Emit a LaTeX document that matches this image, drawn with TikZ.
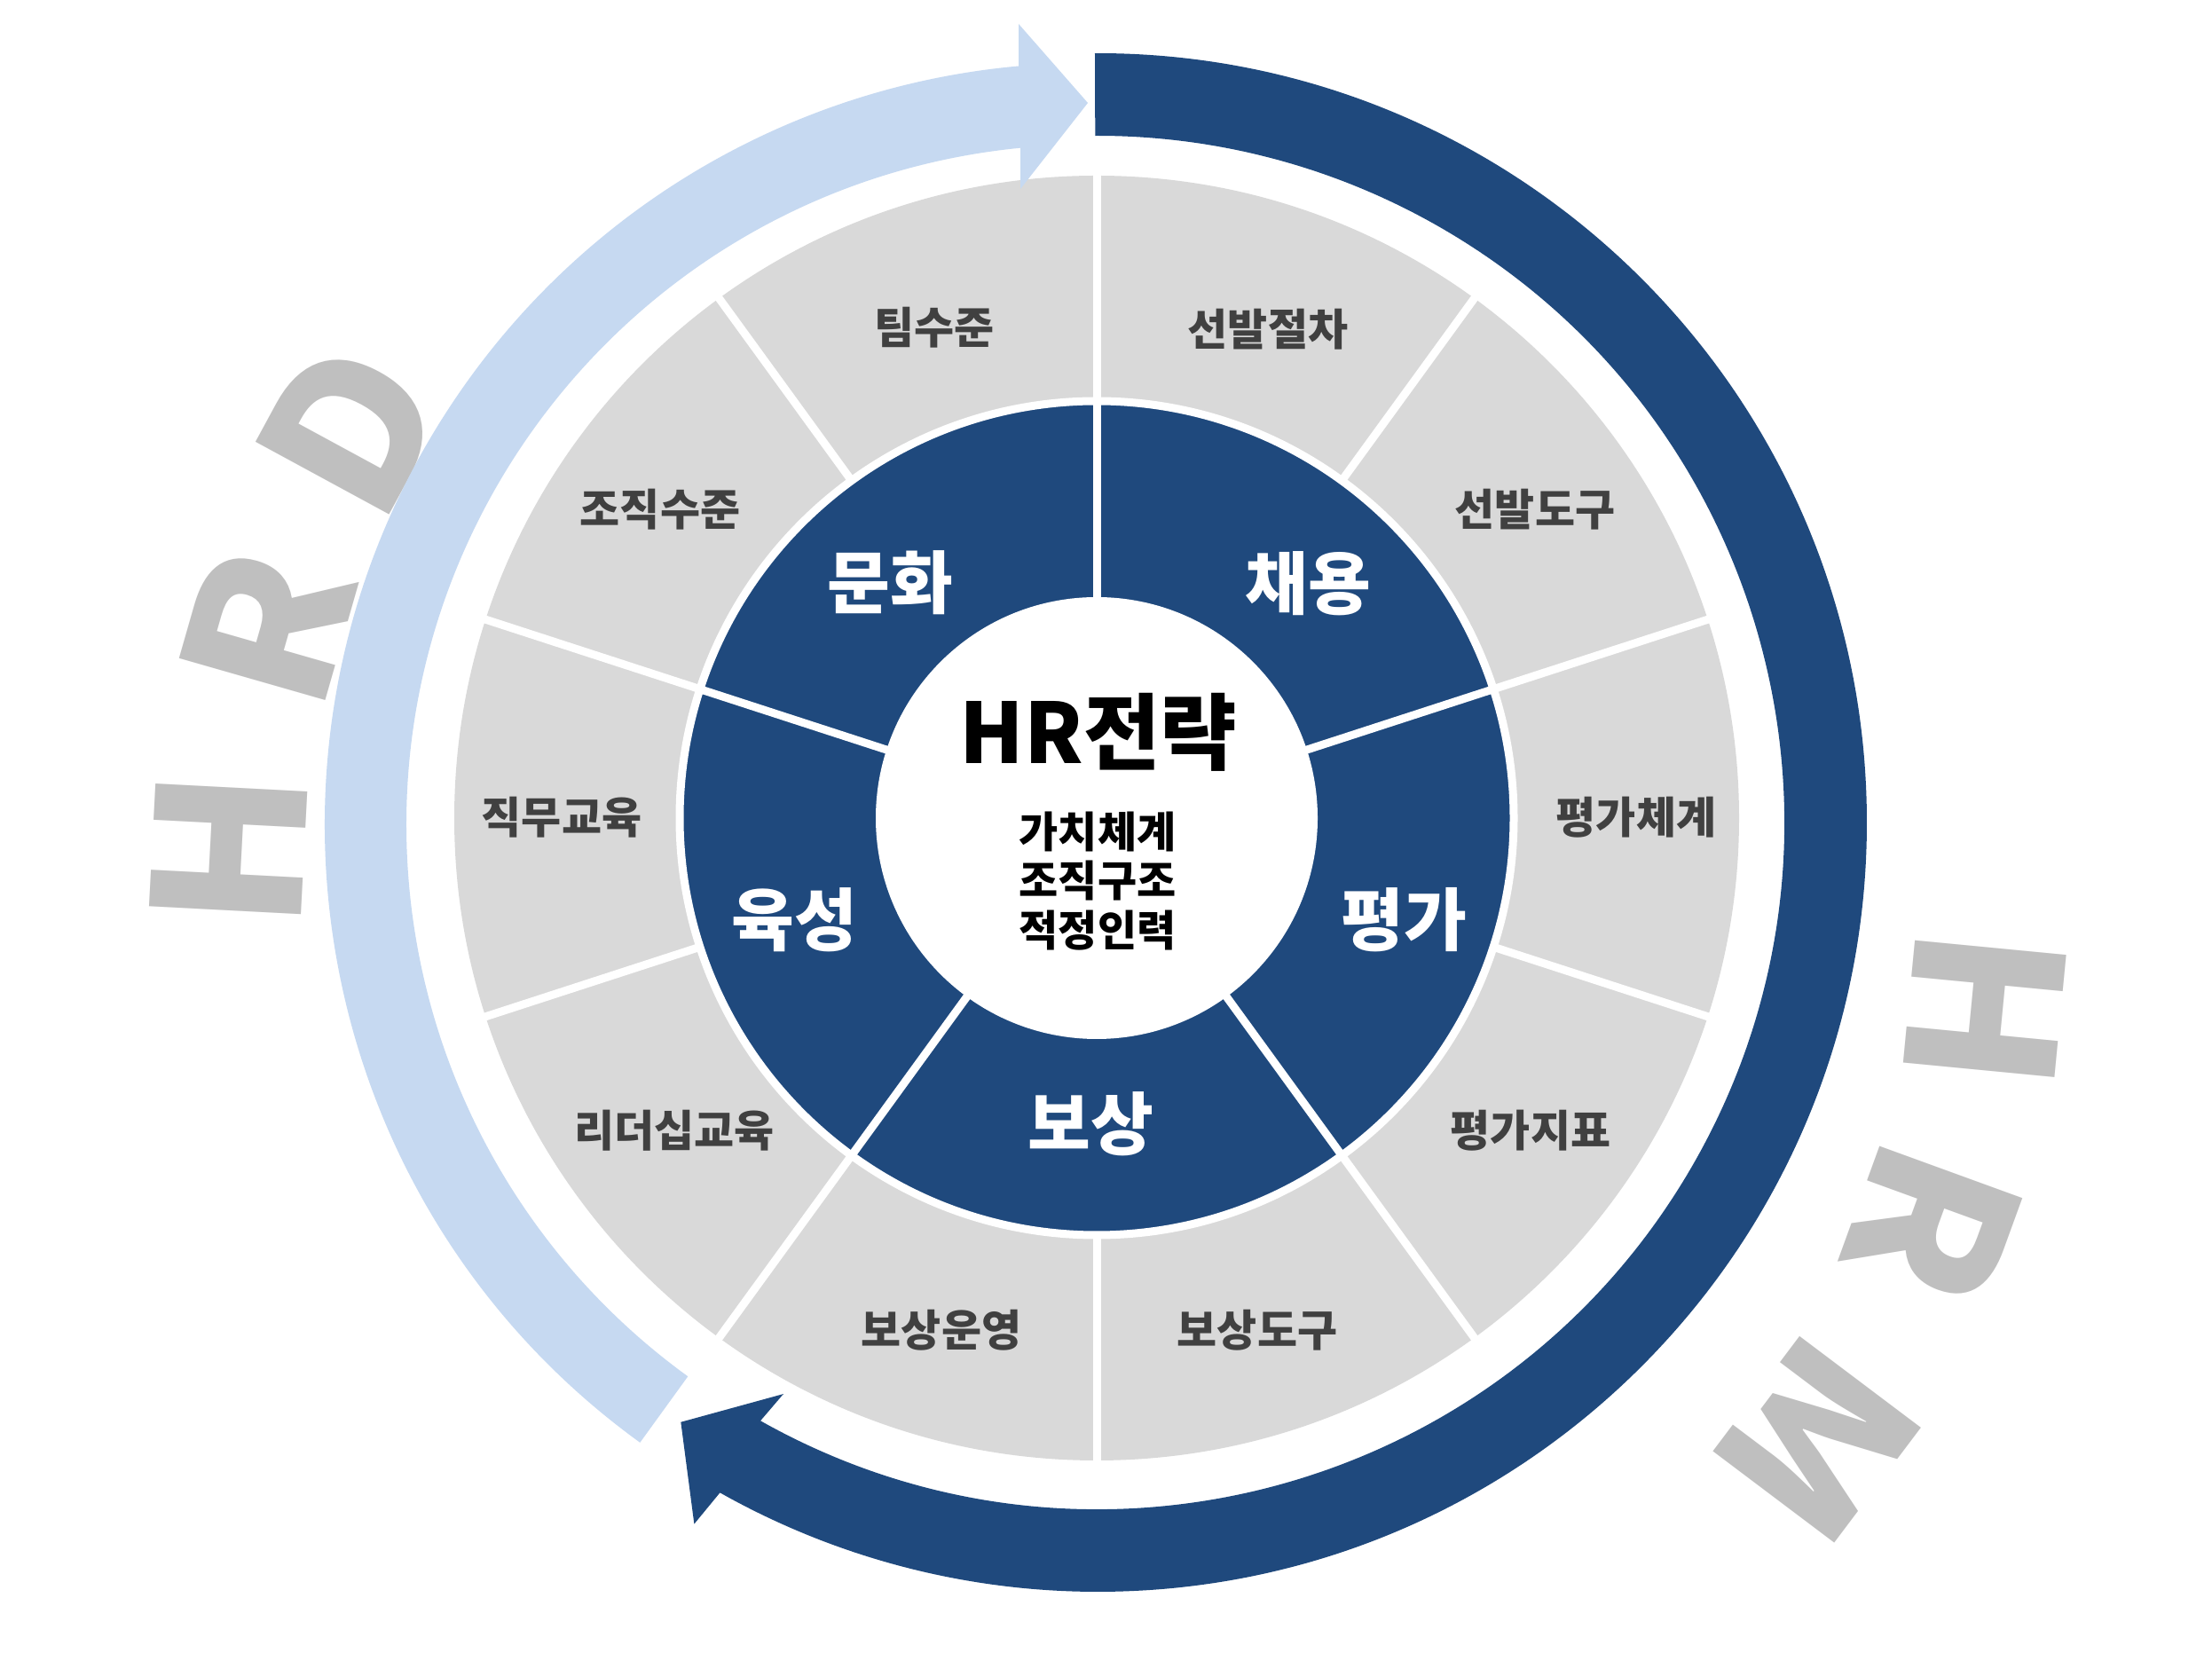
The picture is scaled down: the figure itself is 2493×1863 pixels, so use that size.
\documentclass[tikz,border=0pt]{standalone}
\usepackage{fontspec}
\newfontfamily\kr{Noto Sans CJK KR}
\definecolor{dblue}{HTML}{1F497D}
\definecolor{lblue}{HTML}{C6D9F1}
\definecolor{lgray}{HTML}{D9D9D9}
\definecolor{lettergray}{HTML}{BFBFBF}
\definecolor{labelgray}{HTML}{404040}
\tikzset{
  bigletter/.style={font=\kr\bfseries\fontsize{230}{230}\selectfont, text=lettergray, inner sep=0pt},
  graylabel/.style={font=\kr\bfseries\fontsize{49}{49}\selectfont, text=labelgray, inner sep=0pt},
  darklabel/.style={font=\kr\bfseries\fontsize{77}{77}\selectfont, text=white, inner sep=0pt},
  sepline/.style={draw=white, line width=9pt},
}
\begin{document}
\begin{tikzpicture}[x=1pt,y=1pt]
\fill[white] (0,0) rectangle (2493,1863);
\useasboundingbox (0,0) rectangle (2493,1863);

% big outer letters
\node[bigletter, rotate=87]    (hrdH) at (258,906)  {H};
\node[bigletter, rotate=74]    (hrdR) at (302,1156) {R};
\node[bigletter, rotate=61.5]  (hrdD) at (394,1380) {D};
\node[bigletter, rotate=-95.5] (hrmH) at (2237,726) {H};
\node[bigletter, rotate=-110]  (hrmR) at (2178,484) {R};
\node[bigletter, rotate=-127]  (hrmM) at (2048,240) {M};

% wheel
\begin{scope}[shift={(1236,941)}]
  \fill[lgray] (0,0) circle (724);
  \foreach \k in {0,...,9} \draw[sepline] (90-36*\k:460) -- (90-36*\k:730);
  \fill[dblue] (0,0) circle (470);
  \draw[sepline] (0,0) circle (470);
  \foreach \a in {90,18,-54,-126,-198} \draw[sepline] (\a:240) -- (\a:470);
  \fill[white] (0,0) circle (249);
\end{scope}

% HRM arrow (dark)
\begin{scope}[shift={(1237,936)}]
  \fill[dblue] (90.2:867) arc[start angle=90.2, end angle=-119.4, radius=867]
    -- (-119.9:912) -- (-124.8:823) -- (-118.8:735) -- (-119.4:774)
    arc[start angle=-119.4, end angle=90.2, radius=774] -- cycle;
\end{scope}

% HRD arrow (light)
\begin{scope}[shift={(1225,933)}]
  \fill[lblue] (234.1:859) arc[start angle=234.1, end angle=95.14, radius=859]
    -- (-77,903) -- (1,814) -- (-75,717) -- (95.61:767)
    arc[start angle=95.61, end angle=234.1, radius=767] -- cycle;
\end{scope}

% gray labels
\node[graylabel] (g1)  at (1053,1494) {팀수준};
\node[graylabel] (g2)  at (744,1289)  {조직수준};
\node[graylabel] (g3)  at (633,942)   {직무교육};
\node[graylabel] (g4)  at (760,589)   {리더십교육};
\node[graylabel] (g5)  at (1061,364)  {보상운영};
\node[graylabel] (g6)  at (1417,364)  {보상도구};
\node[graylabel] (g7)  at (1725,589)  {평가지표};
\node[graylabel] (g8)  at (1844,942)  {평가체계};
\node[graylabel] (g9)  at (1730,1289) {선발도구};
\node[graylabel] (g10) at (1429,1492) {선발절차};

% dark labels
\node[darklabel] (d1) at (1474,1205) {채용};
\node[darklabel] (d2) at (1582,826)  {평가};
\node[darklabel] (d3) at (1229,596)  {보상};
\node[darklabel] (d4) at (895,826)   {육성};
\node[darklabel] (d5) at (1003,1206) {문화};

% centre
\node[font=\kr\bfseries\fontsize{94}{94}\selectfont, text=black, inner sep=0pt] (hr) at (1238,1038) {HR전략};
\node[font=\kr\bfseries\fontsize{48}{55.5}\selectfont, text=black, inner sep=0pt, align=center] (sub) at (1237,870) {가치체계\\조직구조\\적정인력};
\end{tikzpicture}
\end{document}
